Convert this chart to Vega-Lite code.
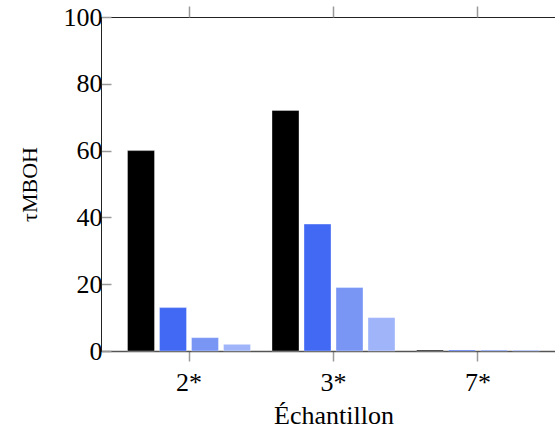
{
  "$schema": "https://vega.github.io/schema/vega-lite/v6.json",
  "autosize": "none",
  "padding": {"left": 101, "top": 17, "right": 0, "bottom": 79},
  "width": 465,
  "height": 334,
  "config": {
    "view": {"stroke": "#222", "strokeWidth": 1},
    "font": "Liberation Serif",
    "axis": {"labelFont": "Liberation Serif", "titleFont": "Liberation Serif", "grid": false}
  },
  "data": {
    "values": [
      {"sample": "2*", "series": "s1", "value": 60},
      {"sample": "2*", "series": "s2", "value": 13},
      {"sample": "2*", "series": "s3", "value": 4},
      {"sample": "2*", "series": "s4", "value": 2},
      {"sample": "3*", "series": "s1", "value": 72},
      {"sample": "3*", "series": "s2", "value": 38},
      {"sample": "3*", "series": "s3", "value": 19},
      {"sample": "3*", "series": "s4", "value": 10},
      {"sample": "7*", "series": "s1", "value": 0.3},
      {"sample": "7*", "series": "s2", "value": 0.3},
      {"sample": "7*", "series": "s3", "value": 0.3},
      {"sample": "7*", "series": "s4", "value": 0.3}
    ]
  },
  "encoding": {
    "x": {
      "field": "sample", "type": "nominal", "sort": ["2*", "3*", "7*"],
      "scale": {"paddingInner": 0, "paddingOuter": 0.109}
    },
    "xOffset": {
      "field": "series", "type": "nominal", "sort": ["s1", "s2", "s3", "s4"],
      "scale": {"paddingInner": 0.156, "paddingOuter": 0.336}
    },
    "y": {
      "field": "value", "type": "quantitative",
      "scale": {"domain": [0, 100], "nice": false, "zero": true}
    },
    "color": {
      "field": "series", "type": "nominal", "legend": null,
      "scale": {"domain": ["s1", "s2", "s3", "s4"], "range": ["#000000", "#4169F4", "#7A96F5", "#A0B4F9"]}
    }
  },
  "layer": [
    {
      "mark": {"type": "bar", "stroke": "#ffffff", "strokeOpacity": 0.35, "strokeWidth": 1},
      "encoding": {
        "x": {
          "field": "sample", "type": "nominal", "sort": ["2*", "3*", "7*"],
          "axis": {
            "orient": "bottom", "title": "Échantillon", "labelAngle": 0,
            "labelFontSize": 26, "labelColor": "#000", "labelPadding": 8,
            "titleFontSize": 26, "titleFontWeight": "normal", "titleColor": "#000", "titlePadding": 7,
            "tickSize": 10, "tickColor": "#999", "tickWidth": 1.5,
            "domainColor": "#555", "domainWidth": 1.5
          }
        },
        "y": {
          "field": "value", "type": "quantitative",
          "axis": {
            "orient": "left", "title": "τMBOH", "values": [0, 20, 40, 60, 80, 100],
            "labelFontSize": 26, "labelColor": "#000", "labelPadding": 9,
            "titleFontSize": 22, "titleFontWeight": "normal", "titleColor": "#000", "titlePadding": 22,
            "tickSize": -10, "tickColor": "#999", "tickWidth": 1.5,
            "domainColor": "#222", "domainWidth": 1
          }
        }
      }
    },
    {
      "mark": {"type": "bar", "opacity": 0},
      "encoding": {
        "x": {
          "field": "sample", "type": "nominal", "sort": ["2*", "3*", "7*"],
          "axis": {"orient": "top", "title": null, "labels": false, "tickSize": 11, "tickColor": "#999", "tickWidth": 1.5, "domain": false}
        },
        "y": {
          "field": "value", "type": "quantitative",
          "axis": {"orient": "right", "title": null, "labels": false, "values": [0, 20, 40, 60, 80, 100], "tickSize": -10, "tickColor": "#999", "tickWidth": 1.5, "domain": false}
        }
      }
    }
  ],
  "resolve": {"axis": {"x": "independent", "y": "independent"}}
}
